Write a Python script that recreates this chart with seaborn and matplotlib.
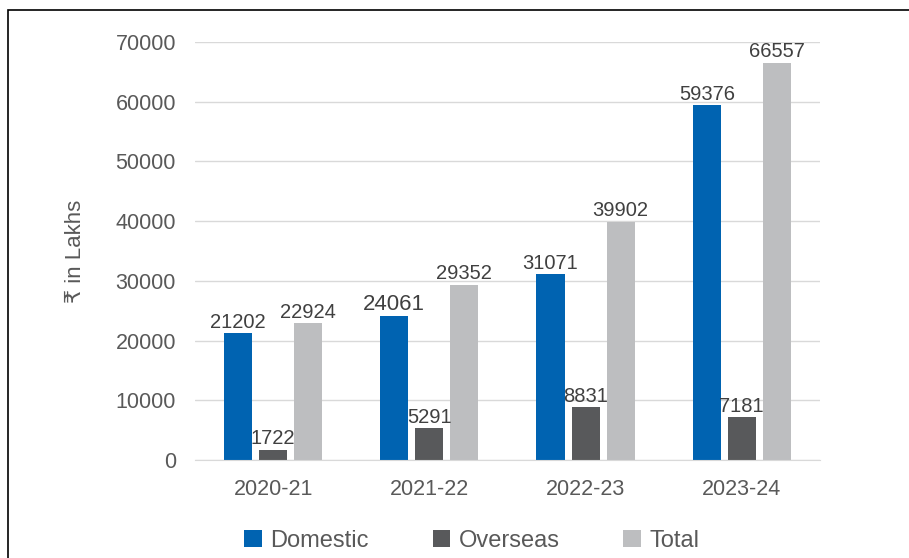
import matplotlib
matplotlib.use("Agg")
import matplotlib.pyplot as plt
import pandas as pd
import seaborn as sns
from matplotlib.patches import Rectangle

# Data
years = ["2020-21", "2021-22", "2022-23", "2023-24"]
domestic = [21202, 24061, 31071, 59376]
overseas = [1722, 5291, 8831, 7181]
total = [22924, 29352, 39902, 66557]
series = ["Domestic", "Overseas", "Total"]
colors = ["#0063B1", "#58595B", "#BDBEC0"]

df = pd.DataFrame({"Year": years, "Domestic": domestic, "Overseas": overseas, "Total": total})
df = df.melt(id_vars="Year", var_name="Series", value_name="Value")

sns.set_style("white")
plt.rcParams["font.family"] = ["Liberation Sans", "DejaVu Sans"]
text_color = "#595959"

fig = plt.figure(figsize=(9.09, 5.58), dpi=100)
ax = fig.add_axes([0.2145, 0.1756, 0.6875, 0.7491])

sns.barplot(data=df, x="Year", y="Value", hue="Series", hue_order=series,
            palette=colors, width=0.673, gap=0.2, saturation=1,
            linewidth=0, ax=ax)

# Value labels
for container in ax.containers:
    texts = ax.bar_label(container, fmt="%d", padding=1, fontsize=14.5, color="#404040")
    for t in texts:
        if t.get_text() == "24061":
            t.set_fontsize(16)

# Axes styling
ax.set_ylim(0, 70000)
ax.set_yticks(range(0, 70001, 10000))
ax.yaxis.grid(True, color="#D9D9D9", linewidth=1)
ax.set_axisbelow(True)
for s in ["top", "right", "left"]:
    ax.spines[s].set_visible(False)
ax.spines["bottom"].set_color("#D9D9D9")
ax.tick_params(axis="both", length=0, labelsize=15.5, labelcolor=text_color)
ax.tick_params(axis="y", pad=13.7)
ax.tick_params(axis="x", pad=13.5)
ax.set_xlabel("")
ax.set_ylabel("₹ in Lakhs", fontsize=16, color=text_color, labelpad=21)

# Legend at bottom
handles, labels = ax.get_legend_handles_labels()
ax.legend_.remove()
fig.legend(handles, labels, loc="center", bbox_to_anchor=(0.519, 0.031), ncol=3,
           frameon=False, fontsize=17, labelcolor=text_color, handlelength=0.76,
           handleheight=0.7, handletextpad=0.34, columnspacing=2.7)

# Outer frame (partly clipped like the source)
fig.patches.append(Rectangle((8 / 909, -0.05), 1.1, 1 - 10 / 558 + 0.05,
                             transform=fig.transFigure, fill=False,
                             edgecolor="black", linewidth=1.2))

fig.savefig("out.png", dpi=100)
